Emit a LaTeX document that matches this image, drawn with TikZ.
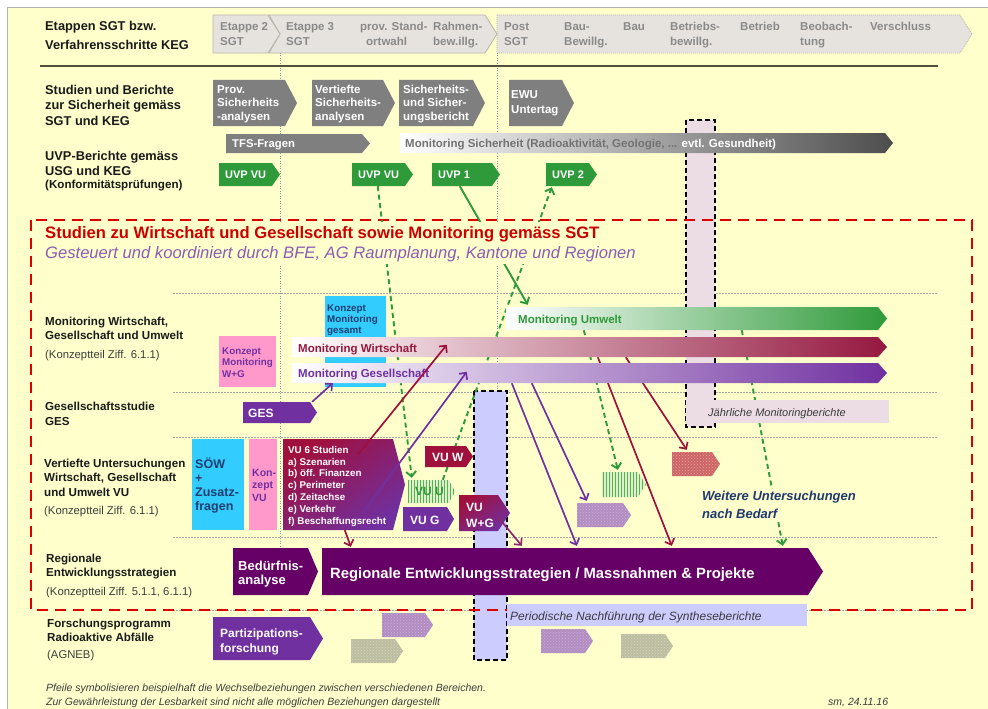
\documentclass[tikz,border=0pt]{standalone}
\usepackage{fontspec}
\setmainfont{Liberation Sans}
\usetikzlibrary{arrows.meta,patterns,fit,calc}
\pgfdeclarelayer{bgl}
\pgfdeclarelayer{behind}
\pgfdeclarelayer{cover}
\pgfdeclarelayer{front}
\pgfsetlayers{bgl,behind,cover,main,front}
\definecolor{bgc}{HTML}{FFFFCC}
\definecolor{hdrc}{HTML}{E6E3DE}
\definecolor{hdrd}{HTML}{B8B3AA}
\definecolor{hdrtc}{HTML}{8A8A8A}
\definecolor{dgc}{HTML}{7F7F7F}
\definecolor{msc}{HTML}{4D4D4D}
\definecolor{uvpc}{HTML}{2F9A3A}
\definecolor{wirc}{HTML}{951840}
\definecolor{wirc2}{HTML}{A0103C}
\definecolor{purc}{HTML}{7030A0}
\definecolor{dpurc}{HTML}{660066}
\definecolor{cyanc}{HTML}{33CCFF}
\definecolor{pinkb}{HTML}{FF99CC}
\definecolor{lavc}{HTML}{CCCCFF}
\definecolor{pinkcol}{HTML}{EBDDE3}
\definecolor{redd}{HTML}{DD0000}
\definecolor{redt}{HTML}{CC0000}
\definecolor{purt}{HTML}{8B5CB5}
\definecolor{txtc}{HTML}{1A1A1A}
\definecolor{dbluec}{HTML}{1F3F6F}
\definecolor{wbluec}{HTML}{1F3A70}
\definecolor{lnc}{HTML}{50503C}
\definecolor{vdc}{HTML}{7F94B0}
\definecolor{rhc}{HTML}{CC6666}
\definecolor{rhc2}{HTML}{E6A0A0}
\definecolor{phc}{HTML}{B28DC2}
\definecolor{phc2}{HTML}{CDB0D8}
\definecolor{yhc}{HTML}{BDBDA0}
\definecolor{yhc2}{HTML}{D5D5C0}
\definecolor{ghc}{HTML}{5DB04E}
\definecolor{ghc2}{HTML}{DDF0CC}
\definecolor{wgc}{HTML}{8B2A6B}
\newcommand\fz[2]{\fontsize{#1}{#2}\selectfont}
\newcommand\chev[7]{%
  \path[#1] (#3,#4) -- (#5,#4) -- (#7,{(#4+#6)/2}) -- (#5,#6) -- (#3,#6) -- cycle;
  \coordinate (#2-a) at (#3,#4);
  \coordinate (#2-b) at (#7,#6);
  \node[fit=(#2-a)(#2-b),inner sep=0pt] (#2) {};
}
\begin{document}
\begin{tikzpicture}[x=1pt,y=-1pt,
  every node/.style={inner sep=0pt},
  tx/.style={anchor=base west, align=left},
  lab/.style={tx, text=txtc, font=\fz{12.8}{15.5}\bfseries},
  labm/.style={tx, text=txtc, font=\fz{11.6}{14.5}\bfseries},
  labs/.style={tx, text=txtc!85, font=\fz{11.3}{14}},
  hdrbox/.style={fill=hdrc, draw=hdrd, line width=.8pt},
  hdrt/.style={tx, text=hdrtc, font=\fz{11.5}{15}\bfseries},
  dgbox/.style={fill=dgc},
  wt/.style={tx, text=white, font=\fz{11.5}{14}\bfseries},
  uvpbox/.style={fill=uvpc},
  msbox/.style={left color=white, middle color=msc!55, right color=msc},
  umwbox/.style={left color=white, middle color=uvpc!30, right color=uvpc},
  wirbox/.style={left color=white, middle color=wirc!30, right color=wirc},
  gesbox/.style={left color=white, middle color=purc!30, right color=purc},
  purbox/.style={fill=purc},
  dpbox/.style={fill=dpurc},
  vuwbox/.style={fill=wirc2},
  vusixbox/.style={top color=wirc2, bottom color=purc, shading angle=35},
  rhatch/.style={preaction={fill=rhc}, pattern=crosshatch dots, pattern color=rhc2},
  phatch/.style={preaction={fill=phc}, pattern=crosshatch dots, pattern color=phc2},
  yhatch/.style={preaction={fill=yhc}, pattern=crosshatch dots, pattern color=yhc2},
  ghatch/.style={preaction={fill=ghc2}, pattern=vertical lines, pattern color=ghc},
  vdot/.style={draw=vdc, line width=.6pt, dash pattern=on 1pt off 1.5pt},
  hdot/.style={draw=black!35, line width=.9pt, dash pattern=on 1.5pt off 1.5pt},
  colbox/.style={draw=black, line width=1.8pt, dash pattern=on 5pt off 3pt},
  reddash/.style={draw=redd, line width=2.8pt, dash pattern=on 11pt off 7pt},
  arr/.style={line width=1.7pt, -{Straight Barb[length=5pt,width=10pt]}},
  gdash/.style={arr, draw=uvpc, line width=1.9pt, dash pattern=on 5pt off 3.5pt},
  garr/.style={arr, draw=uvpc, line width=1.9pt},
  parr/.style={arr, draw=purc},
  rarr/.style={arr, draw=wirc2},
  wgarr/.style={arr, draw=wgc}
]
\useasboundingbox (0,0) rectangle (988,709);
\begin{pgfonlayer}{bgl}
  \fill[white] (0,0) rectangle (988,709);
  \fill[bgc] (7,7) rectangle (988,709);
  \draw[black!30, line width=.8pt] (7,709) -- (7,7) -- (988,7);
  \draw[vdot] (280,53) -- (280,565);
  \draw[vdot] (497,53) -- (497,655);
  \foreach \yy in {293,392,437,537,610} {\draw[hdot] (173,\yy) -- (938,\yy);}
  \draw[colbox, fill=pinkcol] (686,120) rectangle (715,427);
  \draw[colbox, fill=lavc] (474,391) rectangle (507,660);
  \draw[reddash] (31,220) rectangle (972,610);
\end{pgfonlayer}

% ---------- header
\chev{hdrbox,dash pattern=on 1pt off 1pt}{hc}{497}{15}{960}{53}{972}
\path[hdrbox] (269,15) -- (485,15) -- (497,34) -- (485,53) -- (269,53) -- (280,34) -- cycle;
\coordinate (hb-a) at (269,15); \coordinate (hb-b) at (497,53);
\node[fit=(hb-a)(hb-b)] (hb) {};
\chev{hdrbox}{ha}{213}{15}{268}{53}{280}
\node[hdrt] (ht1) at (220,46) {Etappe 2\\SGT};
\node[hdrt] (ht2) at (286,46) {Etappe 3\\SGT};
\node[hdrt] (ht3) at (360,46) {prov. Stand-\\\hspace*{6pt}ortwahl};
\node[hdrt] (ht4) at (433,46) {Rahmen-\\bew.illg.};
\node[hdrt] (ht5) at (504,46) {Post\\SGT};
\node[hdrt] (ht6) at (564,46) {Bau-\\Bewillg.};
\node[hdrt] (ht7) at (623,31) {Bau};
\node[hdrt] (ht8) at (670,46) {Betriebs-\\bewillg.};
\node[hdrt] (ht9) at (740,31) {Betrieb};
\node[hdrt] (ht10) at (800,46) {Beobach-\\tung};
\node[hdrt] (ht11) at (870,31) {Verschluss};
\draw[line width=2.5pt, draw=lnc] (40,66) -- (938,66);

% ---------- left labels (multi-line nodes are placed at the baseline of their last line)
\node[lab] (l1) at (45,50) {Etappen SGT bzw.\\[4.5pt]Verfahrensschritte KEG};
\node[lab] (l2) at (45,125) {Studien und Berichte\\zur Sicherheit gemäss\\SGT und KEG};
\node[lab] (l3) at (45,175.5) {UVP-Berichte gemäss\\USG und KEG};
\node[tx, font=\fz{11.6}{13}\bfseries, text=txtc] (l4) at (45,188) {(Konformitätsprüfungen)};
\node[labm] (l5) at (45,339.5) {Monitoring Wirtschaft,\\Gesellschaft und Umwelt};
\node[labs] (l6) at (45,358) {(Konzeptteil Ziff. 6.1.1)};
\node[labm] (l7) at (45,425) {Gesellschaftsstudie\\GES};
\node[labm] (l8) at (44,496) {Vertiefte Untersuchungen\\Wirtschaft, Gesellschaft\\und Umwelt VU};
\node[labs] (l9) at (44,514) {(Konzeptteil Ziff. 6.1.1)};
\node[labm] (l10) at (46,576.5) {Regionale\\Entwicklungsstrategien};
\node[labs] (l11) at (46,595) {(Konzeptteil Ziff. 5.1.1, 6.1.1)};
\node[labm] (l12) at (47,641.5) {Forschungsprogramm\\Radioaktive Abfälle};
\node[labs] (l13) at (47,658) {(AGNEB)};

% ---------- safety studies
\chev{dgbox}{sa}{213}{80}{285}{126}{297}
\node[wt] (sat) at (217,121) {Prov.\\Sicherheits\\-analysen};
\chev{dgbox}{sb}{312}{80}{383}{126}{395}
\node[wt] (sbt) at (315,121) {Vertiefte\\Sicherheits-\\analysen};
\chev{dgbox}{sc}{399}{80}{473}{126}{485}
\node[wt] (sct) at (403,121) {Sicherheits-\\und Sicher-\\ungsbericht};
\chev{dgbox}{sd}{509}{80}{562}{126}{574}
\node[wt] (sdt) at (511,113) {EWU\\Untertag};
\chev{dgbox}{tfs}{226}{134}{362}{153}{370}
\node[wt, font=\fz{11.3}{14}\bfseries] (tfst) at (232,147) {TFS-Fragen};
\chev{msbox}{msi}{400}{133}{885}{153}{893}
\node[tx, font=\fz{11.5}{13}\bfseries, text=black!55] (msit) at (405,147) {Monitoring Sicherheit (Radioaktivität, Geologie, ... \textcolor{white}{evtl. Gesundheit)}};

% ---------- UVP
\chev{uvpbox}{uvpa}{219}{163}{272}{186}{280}
\node[wt, font=\fz{11}{13}\bfseries] (uvpat) at (225,178) {UVP VU};
\chev{uvpbox}{uvpb}{352}{163}{405}{186}{413}
\node[wt, font=\fz{11}{13}\bfseries] (uvpbt) at (358,178) {UVP VU};
\chev{uvpbox}{uvp1}{432}{163}{492}{186}{500}
\node[wt, font=\fz{11}{13}\bfseries] (uvp1t) at (438,178) {UVP 1};
\chev{uvpbox}{uvp2}{546}{163}{589}{186}{597}
\node[wt, font=\fz{11}{13}\bfseries] (uvp2t) at (552,178) {UVP 2};

% ---------- titles
\begin{pgfonlayer}{cover}
  \fill[bgc] (40,222) rectangle (645,264);
  \node[tx, text=redt, font=\fz{16.6}{18}\bfseries] (ti1) at (45,238) {Studien zu Wirtschaft und Gesellschaft sowie Monitoring gemäss SGT};
  \node[tx, text=purt, font=\fz{16.6}{18}\itshape] (ti2) at (45,258) {Gesteuert und koordiniert durch BFE, AG Raumplanung, Kantone und Regionen};
\end{pgfonlayer}

% ---------- monitoring
\node[fill=cyanc, minimum width=61, minimum height=91, anchor=north west] (kg) at (325,296) {};
\node[tx, text=dbluec, font=\fz{9.8}{11}\bfseries] (kgt) at (327,333) {Konzept\\Monitoring\\gesamt};
\node[fill=pinkb, minimum width=57, minimum height=51, anchor=north west] (kwg) at (219,336) {};
\node[tx, text=purc, font=\fz{9.8}{11.5}\bfseries] (kwgt) at (222,377) {Konzept\\Monitoring\\W+G};
\chev{umwbox}{umw}{506}{307}{878}{330}{887}
\node[tx, text=uvpc, font=\fz{11.5}{13}\bfseries] (umwt) at (518,323) {Monitoring Umwelt};
\chev{wirbox}{mwir}{292}{337}{878}{357}{887}
\node[tx, text=wirc, font=\fz{11.5}{13}\bfseries] (mwirt) at (298,352) {Monitoring Wirtschaft};
\chev{gesbox}{mges}{292}{363}{878}{383}{887}
\node[tx, text=purc, font=\fz{11.5}{13}\bfseries] (mgest) at (298,377) {Monitoring Gesellschaft};
\node[fill=pinkcol, minimum width=203, minimum height=23, anchor=north west] (jmb) at (686,400) {};
\node[tx, font=\fz{11}{13}\itshape, text=txtc!85] (jmbt) at (708,416) {Jährliche Monitoringberichte};

% ---------- GES
\chev{purbox}{ges}{243}{402}{310}{423}{317}
\node[wt, font=\fz{12}{14}\bfseries] (gest) at (248,417) {GES};

% ---------- VU
\node[fill=cyanc, minimum width=52, minimum height=91, anchor=north west] (sow) at (192,439) {};
\node[tx, text=dbluec, font=\fz{12.5}{14}\bfseries] (sowt) at (195,510) {SÖW\\+\\Zusatz-\\fragen};
\node[fill=pinkb, minimum width=28, minimum height=91, anchor=north west] (kvu) at (249,439) {};
\node[tx, text=purc, font=\fz{10.5}{12.5}\bfseries] (kvut) at (252,501) {Kon-\\zept\\VU};
\chev{vusixbox}{vusix}{283}{439}{393}{530}{405}
\node[tx, text=white, font=\fz{9.8}{11.8}\bfseries] (vusixt) at (288,524) {VU 6 Studien\\a) Szenarien\\b) öff. Finanzen\\c) Perimeter\\d) Zeitachse\\e) Verkehr\\f) Beschaffungsrecht};
\chev{vuwbox}{vuw}{425}{446}{466}{467}{473}
\node[wt, font=\fz{12}{14}\bfseries] (vuwt) at (432,461) {VU W};
\chev{ghatch}{vuu}{408}{480}{449}{503}{455}
\node[tx, text=uvpc, font=\fz{12}{14}\bfseries] (vuut) at (415,495) {VU U};
\chev{purbox}{vug}{403}{507}{447}{531}{454}
\node[wt, font=\fz{12}{14}\bfseries] (vugt) at (410,524) {VU G};
\chev{vusixbox}{vuwg}{459}{495}{498}{531}{510}
\node[wt, font=\fz{12}{16}\bfseries] (vuwgt) at (466,527) {VU\\W+G};
\chev{rhatch}{hr}{672}{452}{712}{476}{720}
\chev{ghatch}{hg}{602}{472}{638}{497}{646}
\chev{phatch}{hp}{577}{503}{623}{527}{631}
\node[tx, fill=bgc, inner sep=2pt, text=wbluec, font=\fz{13}{18}\bfseries\itshape] (weit) at (700,518) {Weitere Untersuchungen\\nach Bedarf};

% ---------- regional
\chev{dpbox}{bed}{233}{548}{308}{595}{318}
\node[wt, font=\fz{13}{14.5}\bfseries] (bedt) at (238,584.5) {Bedürfnis-\\analyse};
\chev{dpbox}{reg}{322}{548}{808}{595}{823}
\node[wt, font=\fz{14.8}{16}\bfseries] (regt) at (330,578) {Regionale Entwicklungsstrategien / Massnahmen \& Projekte};
\node[fill=lavc, minimum width=300, minimum height=22, anchor=north west] (per) at (507,604) {};
\node[tx, font=\fz{12}{14}\itshape, text=txtc!85] (pert) at (510,620) {Periodische Nachführung der Syntheseberichte};

% ---------- research
\chev{purbox}{part}{213}{617}{310}{660}{323}
\node[wt, font=\fz{12}{15}\bfseries] (partt) at (220,652) {Partizipations-\\forschung};
\chev{phatch}{hp2}{382}{613}{425}{637}{433}
\chev{yhatch}{hy1}{351}{639}{395}{663}{403}
\chev{phatch}{hp3}{541}{629}{585}{653}{593}
\chev{yhatch}{hy2}{621}{634}{665}{658}{673}

% ---------- footer
\node[tx, font=\fz{10.5}{14}\itshape, text=txtc!85] (f1) at (46,705) {Pfeile symbolisieren beispielhaft die Wechselbeziehungen zwischen verschiedenen Bereichen.\\Zur Gewährleistung der Lesbarkeit sind nicht alle möglichen Beziehungen dargestellt};
\node[tx, font=\fz{10.5}{12}\itshape, text=txtc!85] (f2) at (828,705) {sm, 24.11.16};

% ---------- connectors behind
\begin{pgfonlayer}{behind}
  \draw[gdash] ([shift={(26,0)}]uvpb.south west) -- ([shift={(4,-2)}]vuu.north west);
  \draw[garr] ([shift={(28,0)}]uvp1.south west) -- ([shift={(22,-2)}]umw.north west);
  \draw[gdash] ([shift={(35,0)}]vuu.north west) -- ([shift={(6,1)}]uvp2.south west);
  \draw[gdash] ([shift={(78,0)}]umw.south west) -- ([shift={(16,-2)}]hg.north west);
  \draw[gdash] ([shift={(236,0)}]umw.south west) -- ([shift={(461,-2)}]reg.north west);
  \draw[parr] ([shift={(220,0)}]mges.south west) -- ([shift={(255,-2)}]reg.north west);
  \draw[parr] ([shift={(240,0)}]mges.south west) -- ([shift={(10,-2)}]hp.north west);
  \draw[rarr] ([shift={(306,0)}]mwir.south west) -- ([shift={(350,-2)}]reg.north west);
  \draw[rarr] ([shift={(334,0)}]mwir.south west) -- ([shift={(15,-2)}]hr.north west);
\end{pgfonlayer}
% ---------- connectors in front
\begin{pgfonlayer}{front}
  \draw[parr] ([shift={(-5,0)}]ges.north east) -- ([shift={(41,0)}]mges.south west);
  \draw[rarr] ([shift={(75,16)}]vusix.north west) -- ([shift={(155,8)}]mwir.north west);
  \draw[parr] ([shift={(82,71)}]vusix.north west) -- ([shift={(175,9)}]mges.north west);
  \draw[rarr] ([shift={(62,0)}]vusix.south west) -- ([shift={(29,-1)}]reg.north west);
  \draw[wgarr] ([shift={(39,22)}]vuwg.north west) -- ([shift={(200,-2)}]reg.north west);
\end{pgfonlayer}
\end{tikzpicture}
\end{document}
